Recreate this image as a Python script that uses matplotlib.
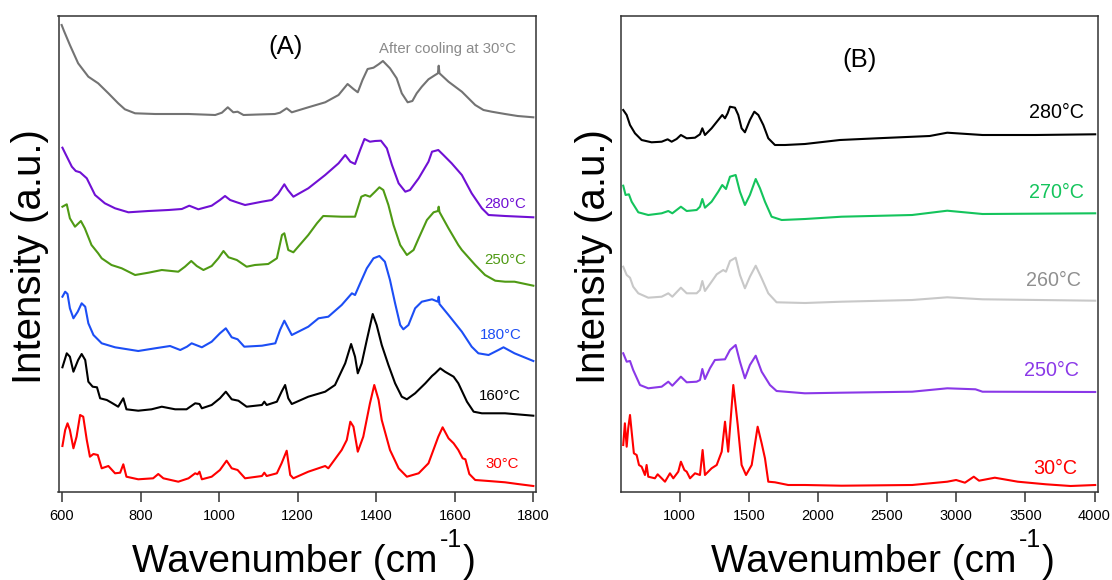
import matplotlib
matplotlib.use("Agg")
import matplotlib.pyplot as plt

plt.rcParams['font.family'] = ['Liberation Sans', 'DejaVu Sans']

# ---------------- Panel A data (wavenumber cm-1, intensity a.u.) ----------------
a_cool_x = [599,605,620,641,667,692,718,743,760,786,837,922,990,1007,1022,1036,1047,1062,1100,1142,1155,1172,1185,1227,1270,1304,1327,1342,1353,1365,1378,1393,1406,1417,1435,1452,1465,1480,1492,1503,1516,1533,1550,1557,1559,1561,1584,1618,1652,1673,1694,1728,1760,1800]
a_cool_y = [555,549,535,516.7,503.3,496.7,486.7,476.7,470.7,466.7,466,466,465,467.3,472.7,467.7,468.3,465,465.5,466,467.3,471.7,467.7,472.7,477.7,485,496,491,487.7,500,511,512.3,515.7,519,511.7,501.7,486.7,477.7,479,486.7,493.3,500.7,505,506.7,514.3,506.7,498.3,488.3,475,470,468.3,466,464,462.7]

a_280_x = [601,608,625,635,646,663,684,709,735,769,820,871,905,924,947,981,1002,1015,1028,1045,1066,1109,1134,1150,1166,1175,1189,1227,1270,1304,1321,1334,1346,1359,1370,1384,1397,1412,1427,1440,1457,1474,1486,1508,1533,1542,1558,1571,1592,1618,1643,1669,1686,1728,1800]
a_280_y = [432.3,426.7,413.3,409,407.7,401.7,385,376.7,371.7,367.7,369,370,371,374.3,370.7,374.3,380,384,380,377.7,375,378.3,380,386,395.7,390,383.3,391.7,405,416.7,425,418.3,416,430,441,438.3,439,439.3,431.7,415,396.7,388.3,390,401.7,418.3,428.3,430,425,416.7,405,386.7,371.7,365,364,362.7]

a_250_x = [601,612,620,633,648,658,675,692,701,726,752,786,820,854,896,913,929,943,960,981,998,1011,1024,1045,1070,1091,1125,1147,1160,1166,1176,1189,1227,1249,1265,1312,1346,1362,1372,1384,1397,1408,1418,1431,1444,1461,1478,1495,1508,1529,1546,1557,1559,1561,1584,1609,1618,1652,1677,1703,1728,1752,1800]
a_250_y = [373.3,375.7,361.7,353.3,359,351.7,335,326.7,321.7,315,311.7,305,307.3,310,308.3,313.3,319,314,310,314,321.7,329,322.7,320,313.3,315,316,321.7,345,346.7,330,327.7,345,356.7,364,363.3,363.3,383.3,385,383.3,388.3,392.7,390,375,355,335,325,330,341.7,360,367.7,369,373.3,368,351.7,335,330,315,305,299.3,298.3,298.3,294.3]

a_180_x = [601,608,614,620,629,640,650,659,667,680,701,735,794,837,875,901,918,930,956,981,1002,1017,1032,1047,1064,1109,1143,1155,1166,1176,1185,1227,1253,1278,1312,1338,1346,1359,1376,1393,1408,1422,1435,1448,1461,1469,1482,1499,1516,1542,1557,1559,1561,1584,1618,1643,1660,1686,1711,1724,1752,1800]
a_180_y = [283.3,288.3,286,271.7,261.7,268.3,276.7,273.3,256.7,245,236.7,232.7,229,231.7,234,230,233.3,236.7,232.7,238.3,246.7,251.7,242.7,240.7,233.3,234.3,236.7,250,259.3,251.7,245,253.3,261.7,263.3,275,286.7,285,296.7,311.7,321.7,324,318.3,300,276.7,255,250.7,255,271.7,278.3,280.7,278.3,283.3,276,265,248.3,233.3,226.7,225,230,232.7,226.7,219]

a_160_x = [601,612,620,629,641,650,659,667,678,689,697,714,726,743,756,764,794,828,854,888,917,939,950,956,981,1002,1017,1032,1049,1070,1109,1115,1121,1147,1159,1168,1176,1185,1227,1270,1295,1321,1336,1346,1353,1363,1376,1391,1401,1414,1431,1448,1465,1478,1499,1525,1542,1550,1563,1575,1597,1609,1631,1648,1669,1728,1800]
a_160_y = [212.7,226.7,223.3,208.3,220,226,220,198.3,193.3,192.7,181.7,180,177.3,173.3,181.7,170.7,169.3,170.7,173.3,170.7,170.7,176.7,176,171.7,175,181.7,188.3,180.7,179.3,173.3,175,178.3,175,178.3,188.3,195,181.7,176,183.3,188.3,195,216.7,236,223.3,206.7,216.7,240,266,255,235,215,196.7,183.3,180.7,186.7,196.7,204,206.7,211.7,208.3,203.3,196.7,178.3,168.3,166.7,166.7,164.3]

a_30_x = [601,608,614,620,629,637,646,654,663,671,680,691,701,718,735,748,756,764,794,832,845,858,896,922,939,945,950,956,981,1002,1019,1032,1047,1066,1109,1115,1121,1147,1159,1172,1181,1189,1227,1270,1278,1312,1325,1334,1342,1353,1367,1384,1395,1406,1414,1435,1457,1478,1508,1533,1558,1569,1584,1597,1609,1620,1627,1637,1652,1686,1728,1760,1800]
a_30_y = [134,150,156.7,150,131.7,143.3,165,163.3,140,123.3,126,125,111.7,114,106.7,107.3,115.7,103.3,100.7,101.7,106,101.7,98.3,101.7,106.7,105.7,108.3,100.7,103.3,110,119.3,111.7,110,101.7,104,107.3,104,106.7,116.7,129.3,105,101.7,108.3,114,111.7,130,140,158.3,153.3,128.3,143.3,176.7,195,180,160,130,111.7,103.3,106.7,116.7,143.3,152.7,141.7,136.7,130,121.7,120.7,106,100,99,97.7,96,94]

# ---------------- Panel B data ----------------
b_280_x = [592,617,641,677,725,797,870,913,942,978,1009,1051,1111,1147,1164,1183,1231,1279,1308,1328,1347,1364,1400,1424,1448,1472,1508,1540,1569,1605,1641,1689,1762,1906,2159,2426,2808,2935,3190,3572,4005]
b_280_y = [470,465,455,446.7,440,437.7,438.3,440.7,438.3,441,445,441.7,442.3,445.7,451.7,445,451.7,460,465,461.7,466.7,473.3,472.3,465,451.7,447.7,460,468.3,465,455,441.7,435,435,436,440,441.7,444,447.3,445,445,445.7]

b_270_x = [592,609,633,653,701,773,870,918,947,1009,1051,1123,1147,1164,1183,1231,1279,1308,1335,1364,1405,1436,1472,1508,1550,1581,1617,1665,1738,1906,2171,2681,2935,3190,4005]
b_270_y = [394.3,385,385.7,378.3,367.7,365,366.7,369,366.7,373.3,369,370,373.3,381,372.3,378.3,388.3,395,391,403.3,405,388.3,375,385,401,391.7,378.3,363.3,360,361,363.3,365,369.3,366,366.7]

b_260_x = [592,617,641,664,701,773,870,918,947,1009,1051,1123,1147,1164,1183,1231,1268,1315,1335,1364,1405,1436,1472,1508,1550,1593,1641,1701,1906,2171,2681,2935,3190,4005]
b_260_y = [313.3,305,302.3,293.3,286.7,282.3,283.3,286.7,283.3,292.3,286.7,286.7,290,299,289,298.3,305.7,310,308.3,319,322.3,305,291.7,303.3,314.3,301.7,286.7,277.7,277,278.3,280,282.7,280.7,279.3]

b_250_x = [592,617,641,664,713,773,870,918,947,1009,1051,1123,1147,1164,1183,1219,1255,1328,1364,1405,1436,1472,1508,1550,1593,1653,1701,1906,2171,2681,2935,3139,3190,4005]
b_250_y = [226.7,218.3,219,210,195,191.7,193.3,198.3,194.3,203.3,197.7,198.3,200,211,201,211.7,220,220.7,230,235,218.3,201.7,215,224.3,208.3,195,189,186.7,187.3,188.3,191.7,190.7,188.3,188]

b_30_x = [592,604,617,628,641,653,669,689,706,725,749,761,773,821,841,870,894,930,954,990,1009,1034,1051,1075,1111,1147,1166,1183,1231,1268,1304,1328,1351,1388,1420,1448,1480,1521,1564,1593,1617,1641,1689,1785,1906,2171,2681,2935,2999,3063,3127,3165,3279,3445,3649,3827,4005]
b_30_y = [135,156.7,133.3,151.7,165,148.3,126.7,125,115,113.3,105,115,103.3,101.7,105.7,101.7,98.3,106.7,101.7,108.3,118.3,110,108.3,101.7,106.7,105,130,105,111.7,115,128.3,158.3,128.3,195,155,115,105,115,153.3,136.7,121.7,98.3,97.7,95,95,94.3,95,98.3,100,97.3,103.3,99.3,102.3,98.3,95.7,94,95]

a_ticks = [600, 800, 1000, 1200, 1400, 1600, 1800]
b_ticks = [1000, 1500, 2000, 2500, 3000, 3500, 4000]

series_a = [
    (a_cool_x, a_cool_y, '#737373'),
    (a_280_x, a_280_y, '#7010d4'),
    (a_250_x, a_250_y, '#4f9a14'),
    (a_180_x, a_180_y, '#1c4ef5'),
    (a_160_x, a_160_y, '#000000'),
    (a_30_x, a_30_y, '#ff0000'),
]
series_b = [
    (b_280_x, b_280_y, '#000000'),
    (b_270_x, b_270_y, '#14c45c'),
    (b_260_x, b_260_y, '#c8c8c8'),
    (b_250_x, b_250_y, '#8a38e8'),
    (b_30_x, b_30_y, '#ff0000'),
]

W, H = 1112, 580
fig = plt.figure(figsize=(W / 100, H / 100), dpi=100)

def frac_box(l, t, r, b):
    return [l / W, 1 - b / H, (r - l) / W, (b - t) / H]

axA = fig.add_axes(frac_box(58.5, 15.5, 535.7, 491.7))
axB = fig.add_axes(frac_box(620.6, 15.5, 1097.7, 491.7))

for x, y, c in series_a:
    axA.plot(x, y, color=c, lw=1.5)
for x, y, c in series_b:
    axB.plot(x, y, color=c, lw=1.5)

axA.set_xlim(591, 1806)
axA.set_ylim(88.3, 564.5)
axB.set_xlim(573, 4023)
axB.set_ylim(88.3, 564.5)

for ax, ticks in ((axA, a_ticks), (axB, b_ticks)):
    ax.set_xticks(ticks)
    ax.set_yticks([])
    ax.tick_params(axis='x', direction='out', length=7.5, width=1.1,
                   color='#333333', labelsize=10.5, pad=5)
    for s in ax.spines.values():
        s.set_color('#333333')
        s.set_linewidth(1.1)

# y labels
for xc in (30, 594):
    fig.text(xc / W, 1 - 257 / H, 'Intensity (a.u.)', rotation=90, fontsize=29,
             ha='center', va='center')

# x labels with raised "-1"
fig.canvas.draw()
renderer = fig.canvas.get_renderer()
for x0 in (132, 711):
    base = 1 - 571.7 / H
    t1 = fig.text(x0 / W, base, 'Wavenumber (cm', fontsize=28, ha='left', va='baseline')
    bb = t1.get_window_extent(renderer)
    t2 = fig.text((bb.x1 + 2) / W, 1 - 546.7 / H, '-1', fontsize=18, ha='left', va='baseline')
    bb2 = t2.get_window_extent(renderer)
    fig.text((bb2.x1 + 1) / W, base, ')', fontsize=28, ha='left', va='baseline')

# Panel A annotations
axA.text(1170, 533, '(A)', fontsize=18.5, ha='center', va='center')
axA.text(1581, 531, 'After cooling at 30°C', fontsize=10.7, ha='center', va='center', color='#8a8a8a')
labA = [('280°C', 1781, 376, '#7010d4'), ('250°C', 1781, 320, '#4f9a14'),
        ('180°C', 1770, 245, '#1c4ef5'), ('160°C', 1767, 184, '#000000'),
        ('30°C', 1762, 116, '#ff0000')]
for t, x, y, c in labA:
    axA.text(x, y, t, fontsize=10.8, ha='right', va='center', color=c)

# Panel B annotations
axB.text(2298, 520, '(B)', fontsize=18.5, ha='center', va='center')
labB = [('280°C', 3924, 467, '#000000'), ('270°C', 3924, 388, '#14c45c'),
        ('260°C', 3901, 300, '#8f8f8f'), ('250°C', 3885, 210, '#8a38e8'),
        ('30°C', 3878, 112, '#ff0000')]
for t, x, y, c in labB:
    axB.text(x, y, t, fontsize=14.2, ha='right', va='center', color=c)

fig.savefig('out.png', dpi=100)
